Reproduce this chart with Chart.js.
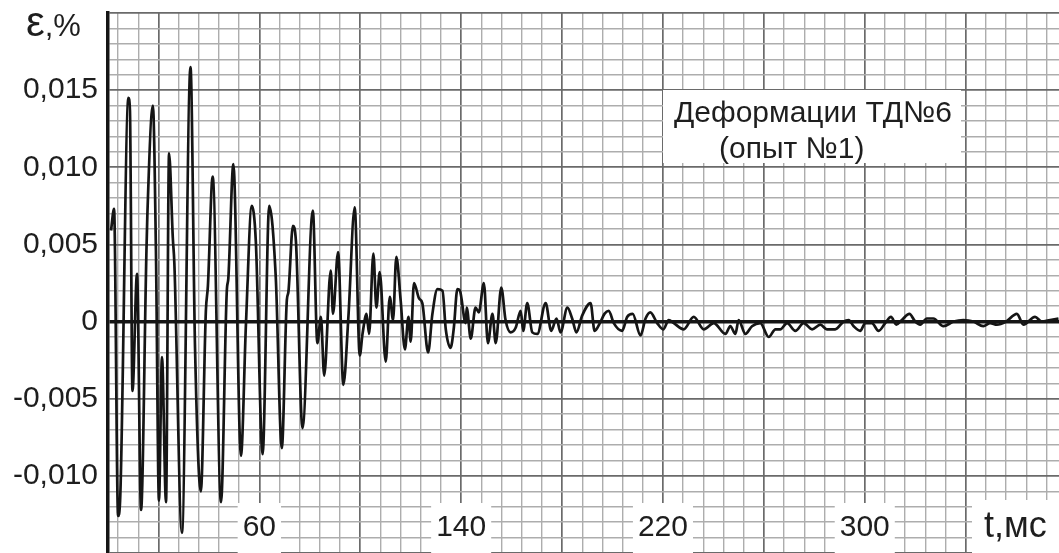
<!DOCTYPE html>
<html>
<head>
<meta charset="utf-8">
<script src="https://cdn.jsdelivr.net/npm/chart.js@4.4.1/dist/chart.umd.min.js"></script>
<style>
  html, body { margin: 0; padding: 0; background: #fff; }
  #wrap { width: 1059px; height: 553px; position: relative; }
</style>
</head>
<body>
<div id="wrap"><canvas id="myChart"></canvas></div>
<script>
// strain record
const times = [1.2, 2.4, 4.0, 4.8, 8.1, 8.7, 9.7, 11.5, 13.1, 15.2, 15.6, 17.8, 19.0, 20.2, 21.4, 23.0, 24.2, 25.7, 26.3, 29.3,
  32.7, 34.5, 36.8, 38.8, 39.6, 41.5, 44.8, 47.1, 47.7, 49.7, 52.7, 54.7, 57.0, 58.6, 61.3, 63.9, 66.5, 68.9, 70.9, 71.5,
  73.3, 74.5, 77.1, 81.2, 83.0, 84.4, 85.7, 88.3, 89.2, 91.2, 93.3, 95.3, 97.8, 99.8, 100.9, 102.5, 103.5, 105.2, 106.4, 107.7,
  110.1, 111.7, 113.0, 114.3, 116.0, 117.7, 119.1, 120.0, 121.3, 123.3, 124.6, 126.9, 128.6, 130.6, 132.6, 133.9, 135.8, 137.1, 138.5, 139.5,
  141.8, 142.2, 143.8, 145.7, 147.0, 149.0, 150.6, 152.4, 153.7, 155.9, 157.6, 159.6, 161.6, 163.6, 164.6, 166.2, 168.2, 170.2, 173.5, 175.7,
  177.8, 179.4, 182.1, 184.0, 185.7, 188.0, 191.3, 192.9, 195.0, 196.8, 198.5, 200.5, 203.8, 205.8, 208.0, 211.1, 213.1, 215.0, 217.7, 220.1,
  222.3, 224.3, 228.2, 232.2, 236.2, 240.1, 244.8, 246.7, 248.7, 250.0, 252.7, 255.3, 258.6, 261.9, 264.6, 266.5, 269.2, 272.5, 275.8, 279.1,
  282.4, 285.0, 288.3, 291.6, 293.6, 295.6, 298.2, 300.2, 302.8, 305.5, 308.1, 310.4, 312.5, 314.7, 317.7, 320.0, 322.0, 324.6, 327.2, 331.2,
  335.2, 339.1, 343.1, 347.0, 349.7, 352.4, 356.0, 360.3, 362.9, 367.5, 370.2, 373.5, 376.8];
const strain = [0.0059, 0.0073, -0.0126, -0.0116, 0.0145, 0.0137, -0.0045, 0.0031, -0.0122, 0.0043, 0.0069, 0.0140, 0.0046, -0.0116, -0.0023, -0.0117, 0.0109, 0.0054, 0.0038, -0.0137,
  0.0165, -0.0017, -0.0110, 0.0007, 0.0023, 0.0094, -0.0117, 0.0020, 0.0028, 0.0102, -0.0087, -0.0001, 0.0075, 0.0052, -0.0086, 0.0075, 0.0029, -0.0082, 0.0014, 0.0019,
  0.0062, 0.0052, -0.0069, 0.0072, -0.0014, 0.0003, -0.0035, 0.0033, 0.0005, 0.0045, -0.0041, 0.0003, 0.0074, -0.0022, -0.0008, 0.0005, -0.0008, 0.0044, 0.0009, 0.0032,
  -0.0026, 0.0016, 0.0001, 0.0042, 0.0014, -0.0018, 0.0003, -0.0013, 0.0025, 0.0015, 0.0012, -0.0020, 0.0005, 0.0021, 0.0020, -0.0005, -0.0017, -0.0004, 0.0021, 0.0020,
  -0.0001, 0.0009, -0.0011, 0.0009, 0.0006, 0.0025, -0.0014, 0.0005, -0.0014, 0.0022, 0.0001, -0.0007, -0.0004, 0.0007, -0.0006, 0.0012, -0.0007, -0.0008, 0.0012, -0.0006,
  0.0002, -0.0007, 0.0009, 0.0002, -0.0007, 0.0004, 0.0012, -0.0006, -0.0001, 0.0005, 0.0007, -0.0001, -0.0006, 0.0003, 0.0005, -0.0009, 0.0002, 0.0006, -0.0001, -0.0005,
  0.0001, -0.0001, -0.0005, 0.0003, -0.0005, -0.0001, -0.0008, -0.0003, -0.0008, 0.0001, -0.0008, -0.0003, -0.0001, -0.0010, -0.0005, -0.0005, -0.0001, -0.0006, -0.0001, -0.0005,
  -0.0002, -0.0005, -0.0005, 0.0000, 0.0001, -0.0003, -0.0006, -0.0001, -0.0001, -0.0006, -0.0001, 0.0003, -0.0002, 0.0001, 0.0005, 0.0000, -0.0002, 0.0002, 0.0002, -0.0003,
  0.0000, 0.0001, 0.0000, -0.0003, -0.0001, -0.0002, 0.0000, 0.0005, -0.0002, 0.0003, 0.0000, 0.0001, 0.0002];

const xLabels = [60, 140, 220, 300];
const yLabels = [-0.010, -0.005, 0, 0.005, 0.010, 0.015];
const xMin = 0, xMax = 377;
const yMin = -0.015, yMax = 0.020;

Chart.defaults.font.family = "'Liberation Sans', Arial, sans-serif";
Chart.defaults.color = '#1e1e1e';

const points = times.map((t, i) => ({ x: t, y: strain[i] }));

const minorGrid = '#adadad';
const majorGrid = '#6a6a6a';
const fontName = "'Liberation Sans', Arial, sans-serif";

// texts written over the grid
const textPlugin = {
    id: 'texts',
    afterDraw(chart) {
        const c = chart.ctx;
        const a = chart.chartArea;
        c.save();
        c.fillStyle = '#fff';
        c.fillRect(663, 90, 298, 73);
        c.fillRect(972, 500, a.right - 972, a.bottom - 500);
        c.fillStyle = '#1e1e1e';
        c.textBaseline = 'alphabetic';
        c.textAlign = 'left';
        c.font = '30px ' + fontName;
        c.fillText('Деформации ТД№6', 674, 122);
        c.fillText('(опыт №1)', 719, 158);
        c.font = '36px ' + fontName;
        c.fillText('t,мс', 984, 537);
        c.font = '42px ' + fontName;
        c.fillText('ε', 26, 36);
        let w = c.measureText('ε').width;
        c.font = '31px ' + fontName;
        c.fillText(',%', 26 + w, 36);
        c.restore();
    }
};

const ctx = document.getElementById('myChart').getContext('2d');
const myChart = new Chart(ctx, {
    type: 'line',
    data: {
        datasets: [{
            data: points,
            borderColor: '#151515',
            borderWidth: 2.7,
            pointRadius: 0,
            fill: false,
            cubicInterpolationMode: 'monotone'
        }]
    },
    options: {
        animation: false,
        responsive: true,
        maintainAspectRatio: false,
        layout: { padding: { top: 13, left: 0, right: 0, bottom: 0 } },
        plugins: {
            legend: { display: false },
            tooltip: { enabled: false }
        },
        scales: {
            x: {
                type: 'linear',
                min: xMin,
                max: xMax,
                z: -1,
                border: { display: false },
                afterBuildTicks: (scale) => {
                    let arr = [];
                    for (let v = 4; v <= xMax; v += 8) arr.push({ value: v });
                    scale.ticks = arr;
                },
                afterFit: (scale) => {
                    scale.height = 0;
                    scale.paddingLeft = 0;
                    scale.paddingRight = 0;
                },
                grid: {
                    drawTicks: false,
                    color: (c) => ((c.tick.value - 20) % 40 === 0 ? majorGrid : minorGrid),
                    lineWidth: (c) => ((c.tick.value - 20) % 40 === 0 ? 1.7 : 1.4)
                },
                ticks: {
                    autoSkip: false,
                    maxRotation: 0,
                    mirror: true,
                    padding: 0,
                    z: 1,
                    color: '#1e1e1e',
                    font: { size: 30, lineHeight: '50px' },
                    showLabelBackdrop: true,
                    backdropColor: (c) => (xLabels.includes(c.tick.value) ? '#fff' : 'rgba(255,255,255,0)'),
                    backdropPadding: { left: 5, right: 5, top: 0, bottom: 0 },
                    callback: (v) => (xLabels.includes(v) ? String(v) : '')
                }
            },
            y: {
                type: 'linear',
                min: yMin,
                max: yMax,
                z: 0,
                border: { display: true, color: '#151515', width: 3.5 },
                afterBuildTicks: (scale) => {
                    let arr = [];
                    for (let k = -15; k <= 20; k++) arr.push({ value: k / 1000 });
                    scale.ticks = arr;
                },
                afterFit: (scale) => {
                    scale.width = 108;
                    scale.paddingTop = 0;
                    scale.paddingBottom = 0;
                },
                grid: {
                    drawTicks: false,
                    color: (c) => {
                        let k = Math.round(c.tick.value * 1000);
                        if (k === 0) return '#151515';
                        return k % 5 === 0 ? majorGrid : minorGrid;
                    },
                    lineWidth: (c) => {
                        let k = Math.round(c.tick.value * 1000);
                        if (k === 0) return 3.5;
                        return k % 5 === 0 ? 1.7 : 1.4;
                    }
                },
                ticks: {
                    autoSkip: false,
                    padding: 10,
                    color: '#1e1e1e',
                    font: { size: 30 },
                    callback: (v) => {
                        let k = Math.round(v * 1000);
                        if (!yLabels.some((l) => Math.round(l * 1000) === k)) return '';
                        return k === 0 ? '0' : (k / 1000).toFixed(3).replace('.', ',');
                    }
                }
            }
        }
    },
    plugins: [textPlugin]
});
</script>
</body>
</html>
